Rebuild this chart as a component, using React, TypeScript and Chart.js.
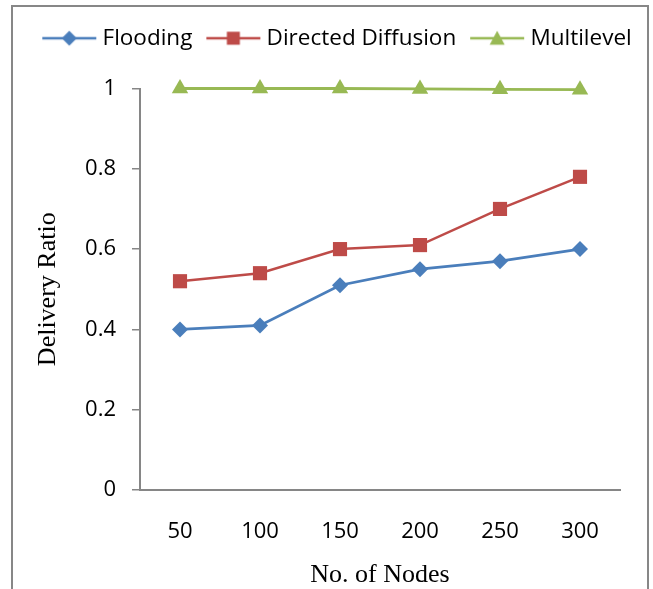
import { useEffect, useRef } from "react";
import { Chart, registerables } from "chart.js";

Chart.register(...registerables);

const categories = ["50", "100", "150", "200", "250", "300"];
const flooding = [0.4, 0.41, 0.51, 0.55, 0.57, 0.6];
const directedDiffusion = [0.52, 0.54, 0.6, 0.61, 0.7, 0.78];
const multilevel = [1, 1, 1, 0.999, 0.998, 0.997];
const yTickValues = [0, 0.2, 0.4, 0.6, 0.8, 1];
const seriesNames = ["Flooding", "Directed Diffusion", "Multilevel"];

const BLUE = "#4A7EBB";
const RED = "#BE4B48";
const GREEN = "#98B954";
const AXIS = "#868686";
const FRAME = "#878787";
const SANS = "'Open Sans', 'DejaVu Sans', sans-serif";
const SERIF = "'Liberation Serif', 'DejaVu Serif', serif";

function legendIcon(color: string, shape: string): HTMLCanvasElement {
  const c = document.createElement("canvas");
  c.width = 56;
  c.height = 20;
  const ctx = c.getContext("2d")!;
  ctx.strokeStyle = color;
  ctx.fillStyle = color;
  ctx.lineWidth = 2.5;
  ctx.beginPath();
  ctx.moveTo(1, 10);
  ctx.lineTo(55, 10);
  ctx.stroke();
  ctx.beginPath();
  if (shape === "diamond") {
    ctx.moveTo(28, 2.5);
    ctx.lineTo(35.5, 10);
    ctx.lineTo(28, 17.5);
    ctx.lineTo(20.5, 10);
  } else if (shape === "square") {
    ctx.rect(21.5, 3.5, 13, 13);
  } else {
    ctx.moveTo(28, 2.5);
    ctx.lineTo(35.5, 16.5);
    ctx.lineTo(20.5, 16.5);
  }
  ctx.closePath();
  ctx.fill();
  return c;
}

const framePlugin = {
  id: "outerFrame",
  beforeDraw(chart: any) {
    const ctx = chart.ctx;
    ctx.save();
    ctx.fillStyle = "#fff";
    ctx.fillRect(0, 0, chart.width, chart.height);
    ctx.strokeStyle = FRAME;
    ctx.lineWidth = 2;
    ctx.strokeRect(12, 6, 636, 700);
    ctx.restore();
  },
};

export default function App() {
  const ref = useRef<HTMLCanvasElement | null>(null);

  useEffect(() => {
    document.body.style.margin = "0";
    const canvas = ref.current;
    if (!canvas) return;
    const icons = [
      legendIcon(BLUE, "diamond"),
      legendIcon(RED, "square"),
      legendIcon(GREEN, "triangle"),
    ];
    const chart = new Chart(canvas, {
      type: "line",
      plugins: [framePlugin],
      data: {
        labels: categories,
        datasets: [
          {
            label: seriesNames[0],
            data: flooding,
            borderColor: BLUE,
            backgroundColor: BLUE,
            borderWidth: 2.8,
            pointStyle: "rectRot",
            pointRadius: 8,
            pointBorderWidth: 0,
            clip: false,
          },
          {
            label: seriesNames[1],
            data: directedDiffusion,
            borderColor: RED,
            backgroundColor: RED,
            borderWidth: 2.5,
            pointStyle: "rect",
            pointRadius: 10,
            pointBorderWidth: 0,
            clip: false,
          },
          {
            label: seriesNames[2],
            data: multilevel,
            borderColor: GREEN,
            backgroundColor: GREEN,
            borderWidth: 2.8,
            pointStyle: "triangle",
            pointRadius: 9.5,
            pointBorderWidth: 0,
            clip: false,
          },
        ],
      },
      options: {
        responsive: false,
        animation: false,
        layout: { padding: { left: 26, right: 0, top: 8, bottom: 0 } },
        plugins: {
          tooltip: { enabled: false },
          legend: {
            position: "top",
            align: "center",
            labels: {
              usePointStyle: true,
              pointStyleWidth: 44,
              padding: 19,
              color: "#000",
              font: { family: SANS, size: 22.5 },
              generateLabels: (ch: any) =>
                ch.data.datasets.map((ds: any, i: number) => ({
                  text: ds.label,
                  fillStyle: ds.borderColor,
                  strokeStyle: ds.borderColor,
                  lineWidth: 0,
                  pointStyle: icons[i],
                  datasetIndex: i,
                  hidden: false,
                })),
            },
          },
        },
        scales: {
          x: {
            type: "category",
            offset: true,
            grid: { display: false, drawTicks: false },
            border: { display: true, color: AXIS, width: 2 },
            ticks: {
              color: "#000",
              padding: 29,
              font: { family: SANS, size: 22 },
              maxRotation: 0,
            },
            title: {
              display: true,
              text: "No. of Nodes",
              color: "#000",
              font: { family: SERIF, size: 26 },
              padding: { top: 0, bottom: -2 },
            },
            afterFit: (s: any) => {
              s.height = 99;
            },
          },
          y: {
            type: "linear",
            min: 0,
            max: 1,
            grid: {
              display: true,
              drawOnChartArea: false,
              drawTicks: true,
              tickLength: 8,
              color: AXIS,
              lineWidth: 1.5,
            },
            border: { display: true, color: AXIS, width: 2 },
            afterBuildTicks: (s: any) => {
              s.ticks = yTickValues.map((v) => ({ value: v }));
            },
            ticks: {
              color: "#000",
              padding: 16,
              font: { family: SANS, size: 22 },
              callback: (v: any) => String(Math.round(Number(v) * 10) / 10),
            },
            title: {
              display: true,
              text: "Delivery Ratio",
              color: "#000",
              font: { family: SERIF, size: 26 },
              padding: { top: 7, bottom: 0 },
            },
            afterFit: (s: any) => {
              s.width = 114;
            },
          },
          xTop: {
            type: "linear",
            position: "top",
            display: true,
            grid: { display: false, drawTicks: false },
            border: { display: false },
            ticks: { display: false },
            afterFit: (s: any) => {
              s.height = 29;
            },
          },
          yRight: {
            type: "linear",
            position: "right",
            display: true,
            grid: { display: false, drawTicks: false },
            border: { display: false },
            ticks: { display: false },
            afterFit: (s: any) => {
              s.width = 33;
            },
          },
        },
      },
    });
    return () => chart.destroy();
  }, []);

  return (
    <div style={{ position: "relative", width: 653, height: 589, overflow: "hidden" }}>
      <canvas
        ref={ref}
        width={653}
        height={589}
        style={{ display: "block", width: 653, height: 589 }}
      />
    </div>
  );
}
